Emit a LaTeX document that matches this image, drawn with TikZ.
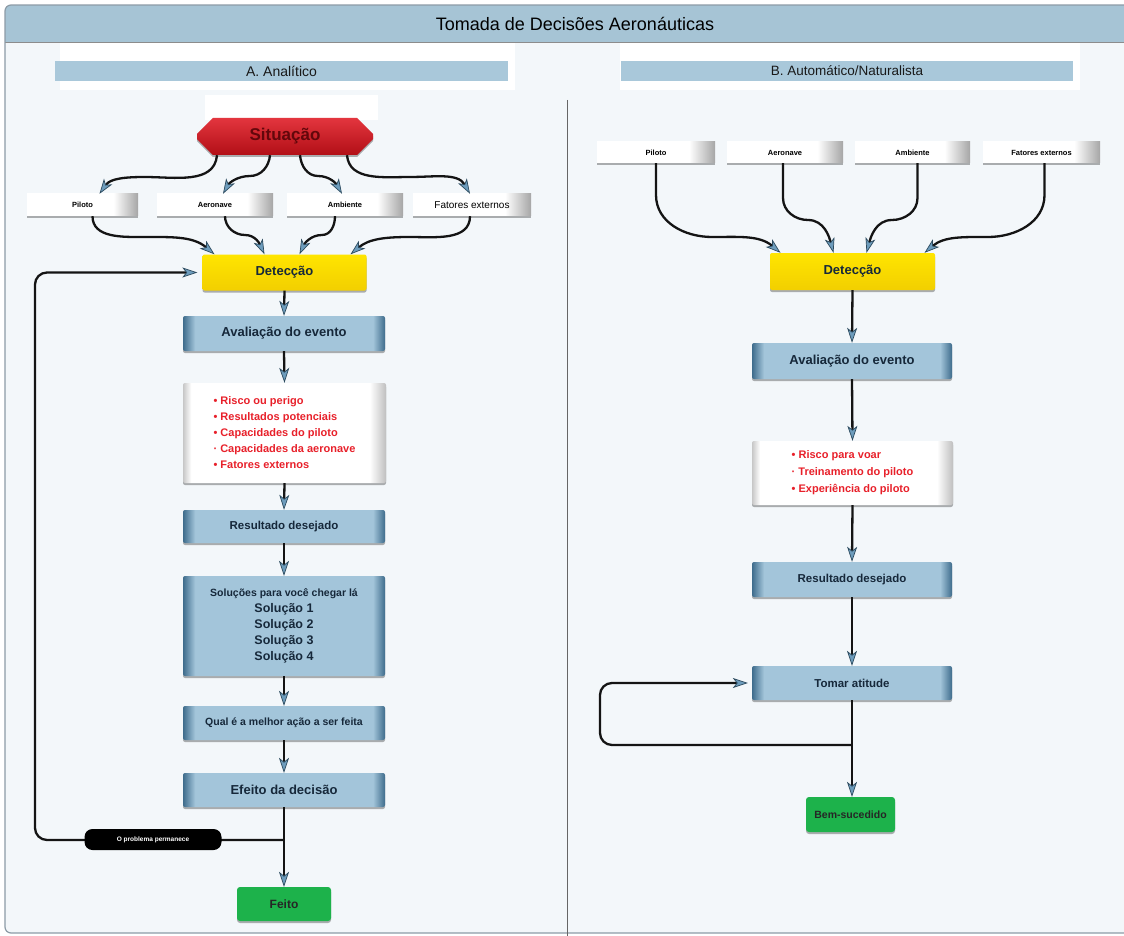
\documentclass[tikz,border=0pt]{standalone}
\usepackage{fontspec}
\setmainfont{Liberation Sans}
\usetikzlibrary{arrows.meta,shapes.misc,shadows,calc}
\definecolor{bg}{HTML}{F3F7FA}
\definecolor{hdr}{HTML}{A6C4D5}
\definecolor{framec}{HTML}{8C9BA6}
\definecolor{barc}{HTML}{A9C8DA}
\definecolor{blt}{HTML}{A3C5DA}
\definecolor{bdk}{HTML}{3E6C8C}
\definecolor{tipblue}{HTML}{6D9CBC}
\definecolor{tipdk}{HTML}{2C4A5E}
\definecolor{sitred}{HTML}{DE121C}
\definecolor{sitdk}{HTML}{8E0A10}
\definecolor{yel}{HTML}{FFE500}
\definecolor{yeldk}{HTML}{F2CF00}
\definecolor{grn}{HTML}{1DB24B}
\definecolor{txtred}{HTML}{E8202A}
\definecolor{navy}{HTML}{16283A}
\pgfdeclarehorizontalshading{bluebar}{100bp}{color(0bp)=(bdk); color(25bp)=(bdk); color(28bp)=(blt); color(72bp)=(blt); color(75bp)=(bdk); color(100bp)=(bdk)}
\pgfdeclarehorizontalshading{whitebar}{100bp}{color(0bp)=(white); color(25bp)=(white); color(64bp)=(white); color(75bp)=(black!35); color(100bp)=(black!35)}
\pgfdeclarehorizontalshading{listbar}{100bp}{color(0bp)=(black!22); color(25bp)=(black!22); color(27bp)=(white); color(71bp)=(white); color(75bp)=(black!25); color(100bp)=(black!25)}
\tikzset{
  mytip/.tip={Stealth[length=15pt,width=10pt,inset=4pt,line width=0.7pt,color=tipdk,fill=tipblue]},
  conn/.style={draw=black!92,line width=2.3pt,-mytip},
  shad/.style={drop shadow={shadow xshift=0pt,shadow yshift=-2pt,fill=black,opacity=0.3}},
  bluebox/.style={shad,shade,shading=bluebar,rounded corners=2pt,minimum width=202pt,minimum height=34pt,inner sep=0pt,text=navy,font=\bfseries\fontsize{11.5}{14}\selectfont},
  inbox/.style={shad,shade,shading=whitebar,minimum height=22pt,inner sep=0pt,text=black,font=\bfseries\fontsize{7.5}{9}\selectfont},
  listbox/.style={shad,shade,shading=listbar,rounded corners=2pt,inner sep=0pt,text=txtred,align=left,font=\bfseries\fontsize{11}{16}\selectfont},
  yelbox/.style={shad,top color=yel,bottom color=yeldk,rounded corners=2pt,minimum width=164pt,minimum height=36pt,inner sep=0pt,text=navy,font=\bfseries\fontsize{13}{15}\selectfont},
  grnbox/.style={shad,fill=grn,rounded corners=3pt,inner sep=0pt,text=black!85,font=\bfseries\fontsize{12}{14}\selectfont},
  barbox/.style={fill=barc,inner sep=0pt,minimum height=20pt,text=black!90}
}
\begin{document}
\begin{tikzpicture}[x=1pt,y=-1pt]
\useasboundingbox (0,0) rectangle (1124,936);
% background and frame
\fill[white] (0,0) rectangle (1124,936);
\begin{scope}
  \clip[rounded corners=6pt] (5,5) rectangle (1140,933);
  \fill[bg] (5,5) rectangle (1140,933);
  \fill[hdr] (5,5) rectangle (1140,43);
  \fill[white] (60,43) rectangle (515,90);
  \fill[white] (620,43) rectangle (1080,90);
  \fill[white] (205,95) rectangle (378,120);
  \draw[black!45,line width=1pt] (5,43) -- (1140,43);
\end{scope}
\draw[framec,line width=1.2pt,rounded corners=6pt] (5,5) rectangle (1140,933);
\node[text=black,font=\fontsize{18}{20}\selectfont] (title) at (575,24) {Tomada de Decisões Aeronáuticas};
% section bars
\node[barbox,minimum width=453pt,font=\fontsize{14}{16}\selectfont] (barA) at (281.5,71) {A. Analítico};
\node[barbox,minimum width=452pt,font=\fontsize{13.5}{16}\selectfont] (barB) at (847,71) {B. Automático/Naturalista};
\draw[black!60,line width=0.8pt] (567,100) -- (567,936);

% ===== Left column =====
\node[shad,chamfered rectangle,chamfered rectangle xsep=8pt,chamfered rectangle ysep=8pt,top color=sitred!85!white,bottom color=sitred!80!black,minimum width=176pt,minimum height=37pt,inner sep=0pt,text=sitdk!70!black,font=\bfseries\fontsize{17}{19}\selectfont] (sit) at (285,136.5) {Situação};

\node[inbox,minimum width=111pt] (inP) at (82.5,205) {Piloto};
\node[inbox,minimum width=116pt] (inA) at (215,205) {Aeronave};
\node[inbox,minimum width=116pt] (inAm) at (345,205) {Ambiente};
\node[inbox,minimum width=118pt,font=\fontsize{10}{12}\selectfont] (inF) at (472,205) {Fatores externos};

\node[yelbox] (det) at (284.5,272.5) {Detecção};
\node[bluebox,minimum height=35pt,font=\bfseries\fontsize{13}{15}\selectfont] (av) at (284,333.5) {Avaliação do evento};
\node[listbox,minimum width=203pt,minimum height=100pt] (lst) at (284.5,433) {• Risco ou perigo\\• Resultados potenciais\\• Capacidades do piloto\\· Capacidades da aeronave\\• Fatores externos};
\node[bluebox,minimum height=33pt] (res) at (284,526.5) {Resultado desejado};
\node[bluebox,minimum height=100pt,align=center,font=\bfseries\fontsize{10.5}{16}\selectfont] (sol) at (284,626) {Soluções para você chegar lá\\{\fontsize{12.5}{16}\selectfont Solução 1}\\{\fontsize{12.5}{16}\selectfont Solução 2}\\{\fontsize{12.5}{16}\selectfont Solução 3}\\{\fontsize{12.5}{16}\selectfont Solução 4}};
\node[bluebox,minimum height=34pt,font=\bfseries\fontsize{10.5}{13}\selectfont] (qual) at (284,723) {Qual é a melhor ação a ser feita};
\node[bluebox,minimum height=34pt,font=\bfseries\fontsize{13}{15}\selectfont] (efe) at (284,790) {Efeito da decisão};
\node[grnbox,minimum width=94pt,minimum height=34pt] (feito) at (284,904) {Feito};

% Situação -> inputs
\draw[conn] ([xshift=-68pt]sit.south) to[out=-95,in=0] (145,177) to[out=180,in=55] ([xshift=17pt]inP.north);
\draw[conn] ([xshift=-15pt]sit.south) to[out=-95,in=0] (250,176) to[out=180,in=60] ([xshift=8pt]inA.north);
\draw[conn] ([xshift=15pt]sit.south) to[out=-85,in=180] (318,176) to[out=0,in=120] ([xshift=-3pt]inAm.north);
\draw[conn] ([xshift=62pt]sit.south) to[out=-85,in=180] (410,177) to[out=0,in=120] ([xshift=-2pt]inF.north);
% inputs -> Detecção
\draw[conn] ([xshift=10pt]inP.south) to[out=-90,in=180] (145,237) to[out=0,in=140] ([xshift=-70pt]det.north);
\draw[conn] ([xshift=10pt]inA.south) to[out=-90,in=180] (245,235) to[out=0,in=115] ([xshift=-20pt]det.north);
\draw[conn] ([xshift=-10pt]inAm.south) to[out=-90,in=0] (322,235) to[out=180,in=65] ([xshift=15pt]det.north);
\draw[conn] ([xshift=-2pt]inF.south) to[out=-90,in=0] (410,237) to[out=180,in=40] ([xshift=66pt]det.north);
% vertical chain
\draw[conn] (det.south) -- (av.north);
\draw[conn] (av.south) -- (lst.north);
\draw[conn] (lst.south) -- (res.north);
\draw[conn] (res.south) -- (sol.north);
\draw[conn] (sol.south) -- (qual.north);
\draw[conn] (qual.south) -- (efe.north);
\draw[conn] (efe.south) -- (feito.north);
% loop
\coordinate (jL) at (284,840);
\draw[conn,rounded corners=12pt,shorten >=5pt] (jL) -- (35,840) |- (det.west);
\node[fill=black,rounded corners=8pt,minimum width=137pt,minimum height=21pt,inner sep=0pt,text=white,font=\bfseries\fontsize{6.5}{8}\selectfont] (pill) at (153,839.5) {O problema permanece};

% ===== Right column =====
\node[inbox,minimum width=118pt,minimum height=21pt] (inP2) at (656,152.5) {Piloto};
\node[inbox,minimum width=116pt,minimum height=21pt] (inA2) at (785,152.5) {Aeronave};
\node[inbox,minimum width=115pt,minimum height=21pt] (inAm2) at (912.5,152.5) {Ambiente};
\node[inbox,minimum width=117pt,minimum height=21pt] (inF2) at (1041.5,152.5) {Fatores externos};

\node[yelbox,minimum width=165pt,minimum height=37pt] (det2) at (852.5,271.5) {Detecção};
\node[bluebox,minimum width=200pt,minimum height=36pt,font=\bfseries\fontsize{13}{15}\selectfont] (av2) at (852,361) {Avaliação do evento};
\node[listbox,minimum width=201pt,minimum height=64pt,font=\bfseries\fontsize{11}{17}\selectfont] (lst2) at (852.5,473) {• Risco para voar\\· Treinamento do piloto\\• Experiência do piloto};
\node[bluebox,minimum width=200pt,minimum height=35pt] (res2) at (852,579.5) {Resultado desejado};
\node[bluebox,minimum width=200pt,minimum height=34pt] (tom) at (852,683) {Tomar atitude};
\node[grnbox,minimum width=89pt,minimum height=35pt,font=\bfseries\fontsize{10.5}{13}\selectfont] (bem) at (850.5,814.5) {Bem-sucedido};

% inputs -> Detecção (right)
\draw[conn] (inP2.south) -- (656,195) to[out=-90,in=180] (712,237) to[out=0,in=140] ([xshift=-72pt]det2.north);
\draw[conn] ([xshift=-2pt]inA2.south) -- (783,198) to[out=-90,in=180] (808,220) to[out=0,in=105] ([xshift=-19pt]det2.north);
\draw[conn] ([xshift=5pt]inAm2.south) -- (917.5,198) to[out=-90,in=0] (892,220) to[out=180,in=75] ([xshift=14pt]det2.north);
\draw[conn] ([xshift=3pt]inF2.south) -- (1044.5,195) to[out=-90,in=0] (988,237) to[out=180,in=40] ([xshift=72pt]det2.north);
% vertical chain (right)
\draw[conn] (det2.south) -- (av2.north);
\draw[conn] (av2.south) -- (lst2.north);
\draw[conn] (lst2.south) -- (res2.north);
\draw[conn] (res2.south) -- (tom.north);
\draw[conn] (tom.south) -- ([xshift=1.5pt]bem.north);
\coordinate (jR) at (852,745);
\draw[conn,rounded corners=12pt,shorten >=4pt] (jR) -- (600,745) |- (tom.west);
\end{tikzpicture}
\end{document}
